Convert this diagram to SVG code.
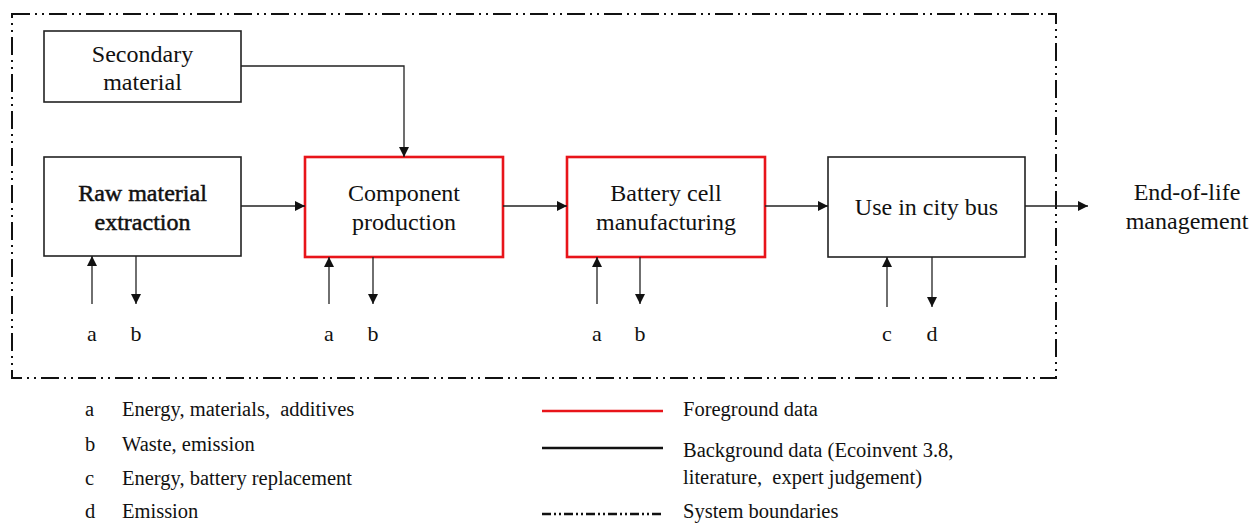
<svg xmlns="http://www.w3.org/2000/svg" width="1250" height="523" viewBox="0 0 1250 523" font-family="'Liberation Serif', 'DejaVu Serif', serif">
<style>
text{font-family:"Liberation Serif","Times New Roman","DejaVu Serif",serif;fill:#111;}
.bt{font-size:24px;text-anchor:middle;}
.lb{font-size:22px;text-anchor:middle;}
.lg{font-size:20.5px;}
.bk{fill:#fff;stroke:#222;stroke-width:1.6;}
.rd{fill:#fff;stroke:#e8141a;stroke-width:2.6;}
.cn{fill:none;stroke:#222;stroke-width:1.3;}
.bd{fill:none;stroke:#111;stroke-width:2;stroke-dasharray:18 5 2 5 2 5;}
</style>
<defs>
<marker id="ah" viewBox="0 0 10 10" refX="10" refY="5" markerWidth="10" markerHeight="10" markerUnits="userSpaceOnUse" orient="auto">
<path d="M0,0 L10,5 L0,10 z" fill="#111"/>
</marker>
</defs>
<rect id="boundary" class="bd" x="12" y="14" width="1044" height="364"/>
<g id="secondary"><rect class="bk" x="44" y="31" width="197" height="71"/><text class="bt" x="142.5" y="62">Secondary</text><text class="bt" x="142.5" y="90">material</text></g>
<g id="raw"><rect class="bk" x="44" y="157" width="197" height="99"/><text class="bt" x="142.5" y="201" style="stroke:#111;stroke-width:0.5">Raw material</text><text class="bt" x="142.5" y="230" style="stroke:#111;stroke-width:0.5">extraction</text></g>
<g id="component"><rect class="rd" x="305" y="157" width="198" height="100"/><text class="bt" x="404" y="201">Component</text><text class="bt" x="404" y="230">production</text></g>
<g id="battery"><rect class="rd" x="567" y="157" width="198" height="100"/><text class="bt" x="666" y="201">Battery cell</text><text class="bt" x="666" y="230">manufacturing</text></g>
<g id="use"><rect class="bk" x="828" y="157" width="197" height="100"/><text class="bt" x="926.5" y="215">Use in city bus</text></g>
<g id="eol"><text class="bt" x="1187" y="200">End-of-life</text><text class="bt" x="1187" y="229">management</text></g>
<g id="connectors">
<polyline class="cn" points="241,66 404,66 404,157" marker-end="url(#ah)"/>
<line class="cn" x1="241" y1="206" x2="305" y2="206" marker-end="url(#ah)"/>
<line class="cn" x1="503" y1="206" x2="567" y2="206" marker-end="url(#ah)"/>
<line class="cn" x1="765" y1="206" x2="828" y2="206" marker-end="url(#ah)"/>
<line class="cn" x1="1025" y1="206" x2="1088" y2="206" marker-end="url(#ah)"/>
<line class="cn" x1="92" y1="304" x2="92" y2="256" marker-end="url(#ah)"/>
<line class="cn" x1="136" y1="256" x2="136" y2="304" marker-end="url(#ah)"/>
<line class="cn" x1="329" y1="304" x2="329" y2="257" marker-end="url(#ah)"/>
<line class="cn" x1="373" y1="257" x2="373" y2="304" marker-end="url(#ah)"/>
<line class="cn" x1="597" y1="304" x2="597" y2="257" marker-end="url(#ah)"/>
<line class="cn" x1="640" y1="257" x2="640" y2="304" marker-end="url(#ah)"/>
<line class="cn" x1="887" y1="307" x2="887" y2="257" marker-end="url(#ah)"/>
<line class="cn" x1="932" y1="257" x2="932" y2="307" marker-end="url(#ah)"/>
</g>
<g id="flow-labels">
<text class="lb" x="92" y="341">a</text><text class="lb" x="136" y="341">b</text>
<text class="lb" x="329" y="341">a</text><text class="lb" x="373" y="341">b</text>
<text class="lb" x="597" y="341">a</text><text class="lb" x="640" y="341">b</text>
<text class="lb" x="887" y="341">c</text><text class="lb" x="932" y="341">d</text>
</g>
<g id="legend">
<text class="lg" x="85" y="416">a</text><text class="lg" x="122" y="416" xml:space="preserve">Energy, materials,  additives</text>
<text class="lg" x="85" y="451">b</text><text class="lg" x="122" y="451">Waste, emission</text>
<text class="lg" x="85" y="485">c</text><text class="lg" x="122" y="485">Energy, battery replacement</text>
<text class="lg" x="85" y="518">d</text><text class="lg" x="122" y="518">Emission</text>
<line x1="542" y1="411" x2="663" y2="411" stroke="#e8141a" stroke-width="2.6"/>
<line x1="542" y1="448" x2="663" y2="448" stroke="#111" stroke-width="2.6"/>
<line x1="542" y1="514" x2="663" y2="514" stroke="#111" stroke-width="2.4" stroke-dasharray="9 3 2 3 2 3"/>
<text class="lg" x="683" y="416">Foreground data</text>
<text class="lg" x="683" y="457">Background data (Ecoinvent 3.8,</text>
<text class="lg" x="683" y="484" xml:space="preserve">literature,  expert judgement)</text>
<text class="lg" x="683" y="518">System boundaries</text>
</g>
</svg>
